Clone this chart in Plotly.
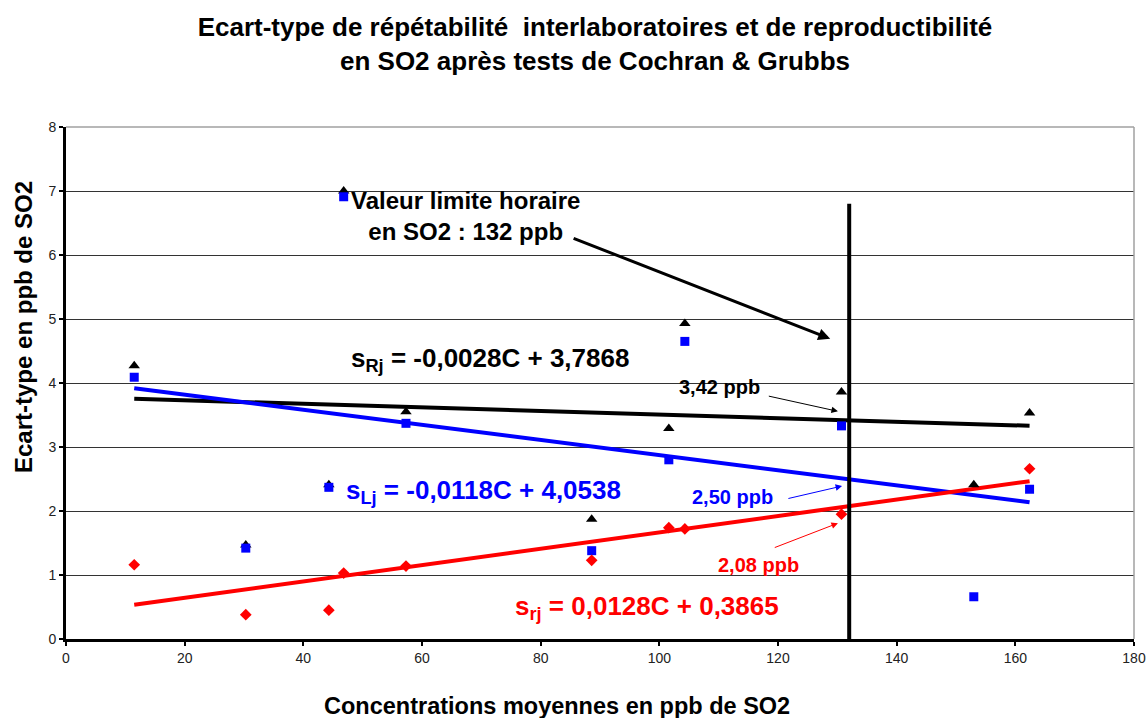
import numpy as np
import plotly.graph_objects as go

# Mean SO2 concentration of each round (ppb)
conc = [11.5, 30.3, 44.3, 46.8, 57.3, 88.6, 101.6, 104.3, 130.7, 153.0, 162.4]

# Reproducibility standard deviation s_Rj
s_R = [4.27, 1.47, 2.41, 7.00, 3.55, 1.87, 3.29, 4.93, 3.86, 2.41, 3.53]
# Between-laboratory standard deviation s_Lj
s_L = [4.09, 1.42, 2.37, 6.91, 3.37, 1.38, 2.80, 4.65, 3.33, 0.66, 2.34]
# Repeatability standard deviation s_rj (no value for the 153 ppb round)
conc_r = [11.5, 30.3, 44.3, 46.8, 57.3, 88.6, 101.6, 104.3, 130.7, 162.4]
s_r = [1.16, 0.38, 0.45, 1.03, 1.14, 1.23, 1.74, 1.72, 1.95, 2.66]

# Linear fits  s = slope * C + intercept
fit_R = (-0.0028, 3.7868)
fit_L = (-0.0118, 4.0538)
fit_r = (0.0128, 0.3865)

limit_value = 132          # hourly limit value (ppb)
limit_top = 6.8
x_ticks = list(range(0, 181, 20))
y_ticks = list(range(0, 9))

FONT = "Liberation Sans, Arial, sans-serif"
BLACK, BLUE, RED = "#000000", "#0000FF", "#FF0000"

# plot area in pixels
ML, MR, MT, MB = 66, 14, 127, 79
PW, PH = 1148 - ML - MR, 718 - MT - MB

fig = go.Figure()

c_min, c_max = min(conc), max(conc)
fit_x = np.array([c_min, c_max])
for (slope, icpt), col in [(fit_R, BLACK), (fit_L, BLUE), (fit_r, RED)]:
    fig.add_trace(go.Scatter(x=fit_x, y=slope * fit_x + icpt, mode="lines",
                             line=dict(color=col, width=4), hoverinfo="skip"))

fig.add_trace(go.Scatter(x=conc, y=s_R, mode="markers", name="sRj",
                         marker=dict(symbol="triangle-up", size=10, color=BLACK)))
fig.add_trace(go.Scatter(x=conc, y=s_L, mode="markers", name="sLj",
                         marker=dict(symbol="square", size=9, color=BLUE)))
fig.add_trace(go.Scatter(x=conc_r, y=s_r, mode="markers", name="srj",
                         marker=dict(symbol="diamond", size=9, color=RED)))

# hourly limit value marker
fig.add_shape(type="line", x0=limit_value, x1=limit_value, y0=0, y1=limit_top,
              xref="x", yref="y", line=dict(color=BLACK, width=4))

# light frame on top and right
fig.add_shape(type="line", x0=0, x1=1, y0=1, y1=1, xref="paper", yref="paper",
              line=dict(color="#A0A0A0", width=1.5))
fig.add_shape(type="line", x0=1, x1=1, y0=0, y1=1, xref="paper", yref="paper",
              line=dict(color="#A0A0A0", width=1.5))


def label(x, y, text, size, color):
    return dict(x=x, y=y, xref="x", yref="y", showarrow=False,
                xanchor="center", yanchor="middle",
                text="<b>" + text + "</b>", align="center",
                font=dict(family=FONT, size=size, color=color))


def arrow(x, y, ax, ay, color, width, size):
    return dict(x=x, y=y, ax=ax, ay=ay, xref="x", yref="y", axref="x", ayref="y",
                text="", showarrow=True, arrowhead=2, arrowsize=size,
                arrowwidth=width, arrowcolor=color)


ann = [
    label(67.3, 6.61, "Valeur limite horaire<br>en SO2 : 132 ppb", 24, BLACK),
    arrow(128.8, 4.69, 85.3, 6.27, BLACK, 3, 0.8),
    label(71.4, 4.36, "s<sub>Rj</sub> = -0,0028C + 3,7868", 26, BLACK),
    label(110.2, 3.94, "3,42 ppb", 20, BLACK),
    arrow(130.1, fit_R[0] * limit_value + fit_R[1] + 0.14, 118.2, 3.80, BLACK, 1, 1.3),
    label(70.3, 2.31, "s<sub>Lj</sub> = -0,0118C + 4,0538", 26, BLUE),
    label(112.4, 2.22, "2,50 ppb", 20, BLUE),
    arrow(130.8, 2.39, 121.5, 2.19, BLUE, 1, 1.3),
    label(116.7, 1.16, "2,08 ppb", 20, RED),
    arrow(130.1, 1.81, 119.2, 1.42, RED, 1, 1.3),
    label(97.9, 0.50, "s<sub>rj</sub> = 0,0128C + 0,3865", 26, RED),
    # axis titles
    dict(x=(557 - ML) / PW, y=-(706 - 639) / PH, xref="paper", yref="paper",
         xanchor="center", yanchor="middle",
         showarrow=False, text="<b>Concentrations moyennes en ppb de SO2</b>",
         font=dict(family=FONT, size=23.5, color=BLACK)),
    dict(x=(23 - ML) / PW, y=(639 - 327) / PH, xref="paper", yref="paper",
         xanchor="center", yanchor="middle",
         showarrow=False, textangle=-90, text="<b>Ecart-type en ppb de SO2</b>",
         font=dict(family=FONT, size=24, color=BLACK)),
]

fig.update_layout(
    width=1148, height=718,
    margin=dict(l=ML, r=MR, t=MT, b=MB),
    paper_bgcolor="white", plot_bgcolor="white",
    showlegend=False,
    annotations=ann,
    font=dict(family=FONT, color=BLACK),
    title=dict(text="<b>Ecart-type de répétabilité  interlaboratoires et de reproductibilité<br>"
                    "en SO2 après tests de Cochran & Grubbs</b>",
               x=595 / 1148, xanchor="center", y=1 - 36 / 718, yanchor="middle",
               font=dict(family=FONT, size=26, color=BLACK)),
    xaxis=dict(range=[0, 180], tickvals=x_ticks, ticks="outside", ticklen=4,
               tickwidth=2, tickcolor=BLACK, showline=True, linecolor=BLACK,
               linewidth=3, showgrid=False, zeroline=False, automargin=False,
               tickfont=dict(family=FONT, size=14, color="#222222")),
    yaxis=dict(range=[0, 8], tickvals=y_ticks, ticks="outside", ticklen=4,
               tickwidth=2, tickcolor=BLACK, showline=True, linecolor=BLACK,
               linewidth=3, showgrid=True, gridcolor="#333333", gridwidth=1,
               zeroline=False, automargin=False,
               tickfont=dict(family=FONT, size=14, color="#222222")),
)

fig.write_html("out.html")
